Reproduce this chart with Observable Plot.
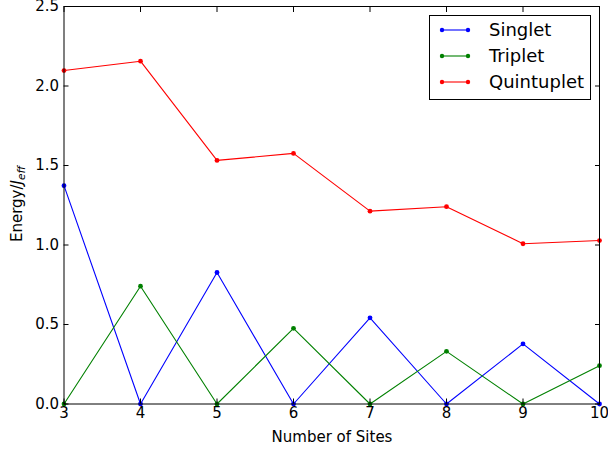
<!DOCTYPE html>
<html>
<head>
<meta charset="utf-8">
<script src="https://cdn.jsdelivr.net/npm/d3@7"></script>
<script src="https://cdn.jsdelivr.net/npm/@observablehq/plot@0.6"></script>
<style>
  html, body { margin: 0; padding: 0; background: #fff; }
  #chart { width: 608px; height: 452px; }
  svg { font-family: "DejaVu Sans", sans-serif; }
</style>
</head>
<body>
<div id="chart"></div>
<script>
// Number of sites on the chain
const sites = [3, 4, 5, 6, 7, 8, 9, 10];
// Excitation energies in units of J_eff
const singlet     = [1.373, 0.0, 0.827, 0.0, 0.542, 0.0, 0.378, 0.0];
const triplet     = [0.0, 0.741, 0.0, 0.476, 0.0, 0.331, 0.0, 0.241];
const quintuplet  = [2.097, 2.156, 1.532, 1.576, 1.213, 1.241, 1.008, 1.028];
const seriesNames = ["Singlet", "Triplet", "Quintuplet"];
const seriesColors = ["#0000ff", "#008000", "#ff0000"];
const xTicks = [3, 4, 5, 6, 7, 8, 9, 10];
const yTicks = [0, 0.5, 1.0, 1.5, 2.0, 2.5];

const rows = [];
[singlet, triplet, quintuplet].forEach((vals, i) => {
  vals.forEach((v, j) => rows.push({series: seriesNames[i], sites: sites[j], energy: v}));
});

const W = 608, H = 452;
const FS = 15;
const chart = Plot.plot({
  width: W,
  height: H,
  marginLeft: 63.5,
  marginRight: 9,
  marginTop: 6,
  marginBottom: 48.5,
  style: {fontFamily: "DejaVu Sans, sans-serif", fontSize: FS + "px", background: "#fff"},
  x: {domain: [3, 10]},
  y: {domain: [0, 2.5]},
  color: {domain: seriesNames, range: seriesColors},
  marks: [
    Plot.line(rows, {x: "sites", y: "energy", z: "series", stroke: "series", strokeWidth: 1.1}),
    Plot.dot(rows, {x: "sites", y: "energy", fill: "series", r: 2.4}),
    Plot.axisX({ticks: xTicks, tickSize: -5, tickPadding: 8, tickFormat: d => String(d), fontSize: FS, label: null}),
    Plot.axisX({anchor: "top", ticks: xTicks, tickSize: -5, tickFormat: () => "", label: null}),
    Plot.axisY({ticks: yTicks, tickSize: -5, tickPadding: 10, tickFormat: d => d.toFixed(1), fontSize: FS, label: null}),
    Plot.axisY({anchor: "right", ticks: yTicks, tickSize: -5, tickFormat: () => "", label: null}),
    Plot.frame({stroke: "#000", strokeWidth: 1})
  ]
});
document.getElementById("chart").appendChild(chart);

const svg = d3.select(chart);
svg.style("overflow", "visible");

// Axis titles
svg.append("text")
  .attr("x", 332).attr("y", 442)
  .attr("text-anchor", "middle")
  .attr("font-size", FS)
  .attr("fill", "#000")
  .text("Number of Sites");

const yl = svg.append("text")
  .attr("transform", "translate(22,204) rotate(-90)")
  .attr("text-anchor", "middle")
  .attr("font-size", FS)
  .attr("fill", "#000");
yl.append("tspan").text("Energy/");
yl.append("tspan").attr("font-style", "italic").text("J");
yl.append("tspan").attr("font-style", "italic")
  .attr("font-size", 10.5).attr("dy", 3).text("eff");

// Legend box
const lg = svg.append("g").attr("text-anchor", "start");
lg.append("rect")
  .attr("x", 429.5).attr("y", 15.5).attr("width", 161).attr("height", 84)
  .attr("fill", "#fff").attr("stroke", "#000").attr("stroke-width", 1);
seriesNames.forEach((name, i) => {
  const y = 30 + i * 26;
  lg.append("line").attr("x1", 442).attr("x2", 468).attr("y1", y).attr("y2", y)
    .attr("stroke", seriesColors[i]).attr("stroke-width", 1.1);
  [442, 468].forEach(cx => lg.append("circle").attr("cx", cx).attr("cy", y).attr("r", 2.2).attr("fill", seriesColors[i]));
  lg.append("text").attr("x", 489).attr("y", y).attr("dy", "0.36em")
    .attr("text-anchor", "start")
    .attr("font-size", 18).attr("fill", "#000").text(name);
});
</script>
</body>
</html>
